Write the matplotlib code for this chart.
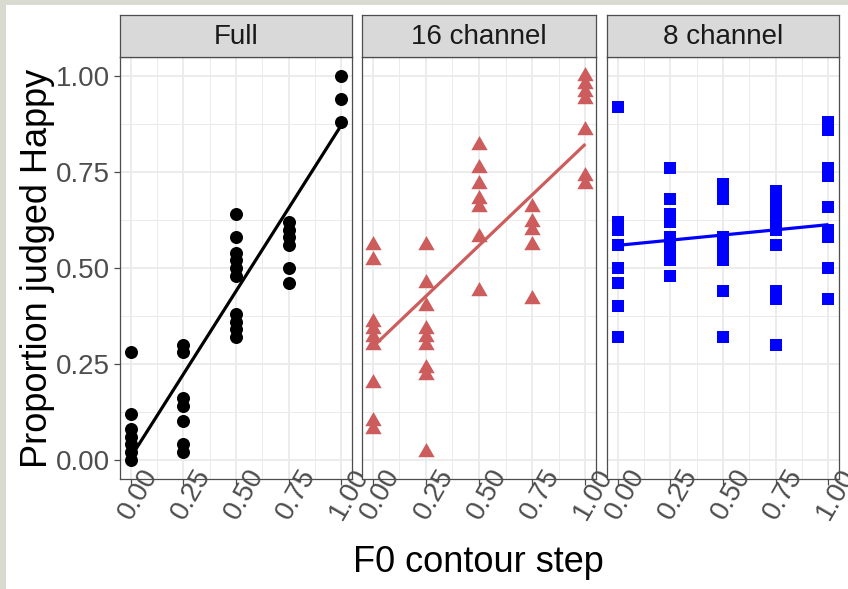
import numpy as np
import matplotlib
matplotlib.use("Agg")
import matplotlib.pyplot as plt
from matplotlib.patches import Rectangle
from matplotlib.path import Path
import matplotlib.transforms as mtransforms

plt.rcParams['font.family'] = ['Liberation Sans', 'DejaVu Sans']

# ---- data -------------------------------------------------------------
panel_titles = ["Full", "16 channel", "8 channel"]
steps = [0.0, 0.25, 0.5, 0.75, 1.0]

full_props = [
    [0.28, 0.12, 0.08, 0.06, 0.04, 0.02, 0.00],
    [0.30, 0.28, 0.16, 0.14, 0.10, 0.04, 0.02],
    [0.64, 0.58, 0.54, 0.52, 0.50, 0.48, 0.38, 0.36, 0.34, 0.32],
    [0.62, 0.60, 0.58, 0.56, 0.50, 0.46],
    [1.00, 0.94, 0.88],
]
ch16_props = [
    [0.56, 0.52, 0.36, 0.34, 0.32, 0.30, 0.20, 0.10, 0.08],
    [0.56, 0.46, 0.40, 0.34, 0.32, 0.30, 0.24, 0.22, 0.02],
    [0.82, 0.76, 0.72, 0.68, 0.66, 0.58, 0.44],
    [0.66, 0.62, 0.60, 0.56, 0.42],
    [1.00, 0.98, 0.96, 0.94, 0.86, 0.74, 0.72],
]
ch8_props = [
    [0.92, 0.62, 0.60, 0.56, 0.50, 0.46, 0.40, 0.32],
    [0.76, 0.68, 0.64, 0.62, 0.58, 0.56, 0.54, 0.52, 0.48],
    [0.72, 0.70, 0.68, 0.58, 0.56, 0.54, 0.52, 0.44, 0.32],
    [0.70, 0.68, 0.66, 0.64, 0.62, 0.60, 0.56, 0.44, 0.42, 0.30],
    [0.88, 0.86, 0.76, 0.74, 0.66, 0.60, 0.58, 0.50, 0.42],
]

# linear fit (intercept, slope) for each condition
fit_intercepts = [0.006, 0.294, 0.559]
fit_slopes = [0.867, 0.529, 0.054]

tick_values = [0.0, 0.25, 0.5, 0.75, 1.0]
tick_labels = ["0.00", "0.25", "0.50", "0.75", "1.00"]

# ---- styling ----------------------------------------------------------
colors = ["#000000", "#CD5C5C", "#0000FF"]
tri = Path([(-1, -0.577), (1, -0.577), (0, 1.155), (-1, -0.577)],
           [Path.MOVETO, Path.LINETO, Path.LINETO, Path.CLOSEPOLY])
markers = ["o", tri, "s"]
marker_sizes = [88, 185, 83]

W, H = 848, 589
fig = plt.figure(figsize=(W / 100, H / 100), dpi=100)
fig.patch.set_facecolor("white")

# thin frame strips along the left and top edges
fig.patches.append(Rectangle((0, 0), 6 / W, 1, transform=fig.transFigure,
                             facecolor="#D9DBD0", edgecolor="none", zorder=0))
fig.patches.append(Rectangle((0, 1 - 5 / H), 1, 5 / H, transform=fig.transFigure,
                             facecolor="#D9DBD0", edgecolor="none", zorder=0))

panel_px = [(120, 352), (362, 596), (607, 839)]
top_px, bottom_px = 57, 479
strip_top = 15

grid_col = "#EBEBEB"
border_col = "#4D4D4D"
text_col = "#4D4D4D"

all_props = [full_props, ch16_props, ch8_props]

for i, (x0, x1) in enumerate(panel_px):
    ax = fig.add_axes([x0 / W, 1 - bottom_px / H, (x1 - x0) / W, (bottom_px - top_px) / H])
    ax.set_xlim(-0.05, 1.05)
    ax.set_ylim(-0.05, 1.05)
    ax.set_xticks(tick_values)
    ax.set_xticks([0.125, 0.375, 0.625, 0.875], minor=True)
    ax.set_yticks(tick_values)
    ax.set_yticks([0.125, 0.375, 0.625, 0.875], minor=True)
    ax.grid(which="major", color=grid_col, lw=1.3, zorder=0)
    ax.grid(which="minor", color=grid_col, lw=0.7, zorder=0)
    ax.set_axisbelow(True)
    for s in ax.spines.values():
        s.set_color(border_col)
        s.set_linewidth(0.9)
    ax.tick_params(which="minor", length=0)
    ax.tick_params(which="major", length=4, width=0.9, color=border_col,
                   labelsize=20, labelcolor=text_col, pad=3)
    ax.set_xticklabels([])
    if i == 0:
        ax.set_yticklabels(tick_labels)
    else:
        ax.tick_params(axis="y", which="major", length=0)
        ax.set_yticklabels([])

    # rotated x tick labels
    off = mtransforms.ScaledTranslation(8 / 100, -15 / 100, fig.dpi_scale_trans)
    trans = mtransforms.blended_transform_factory(ax.transData, ax.transAxes) + off
    for tv, tl in zip(tick_values, tick_labels):
        ax.text(tv, 0, tl, transform=trans, rotation=60, rotation_mode="anchor",
                ha="center", va="center", fontsize=20, color=text_col, clip_on=False)

    # points
    xs, ys = [], []
    for st, vals in zip(steps, all_props[i]):
        xs += [st] * len(vals)
        ys += vals
    ax.scatter(xs, ys, s=marker_sizes[i], marker=markers[i], color=colors[i],
               linewidths=0, zorder=3)

    # fitted line
    xl = np.array([steps[0], steps[-1]])
    ax.plot(xl, fit_intercepts[i] + fit_slopes[i] * xl, color=colors[i], lw=2.3,
            solid_capstyle="butt", zorder=4)

    # facet strip
    sax = fig.add_axes([x0 / W, 1 - top_px / H, (x1 - x0) / W, (top_px - strip_top) / H])
    sax.set_facecolor("#D9D9D9")
    sax.set_xticks([])
    sax.set_yticks([])
    for s in sax.spines.values():
        s.set_color(border_col)
        s.set_linewidth(0.9)
    sax.text(0.5, 0.48, panel_titles[i], transform=sax.transAxes, ha="center",
             va="center", fontsize=20, color="#1A1A1A")

fig.text(38 / W, 1 - 268 / H, "Proportion judged Happy", rotation=90,
         ha="center", va="center", fontsize=26, color="black")
fig.text(478 / W, 1 - 563 / H, "F0 contour step", ha="center", va="center",
         fontsize=26, color="black")

fig.savefig("out.png", dpi=100)
